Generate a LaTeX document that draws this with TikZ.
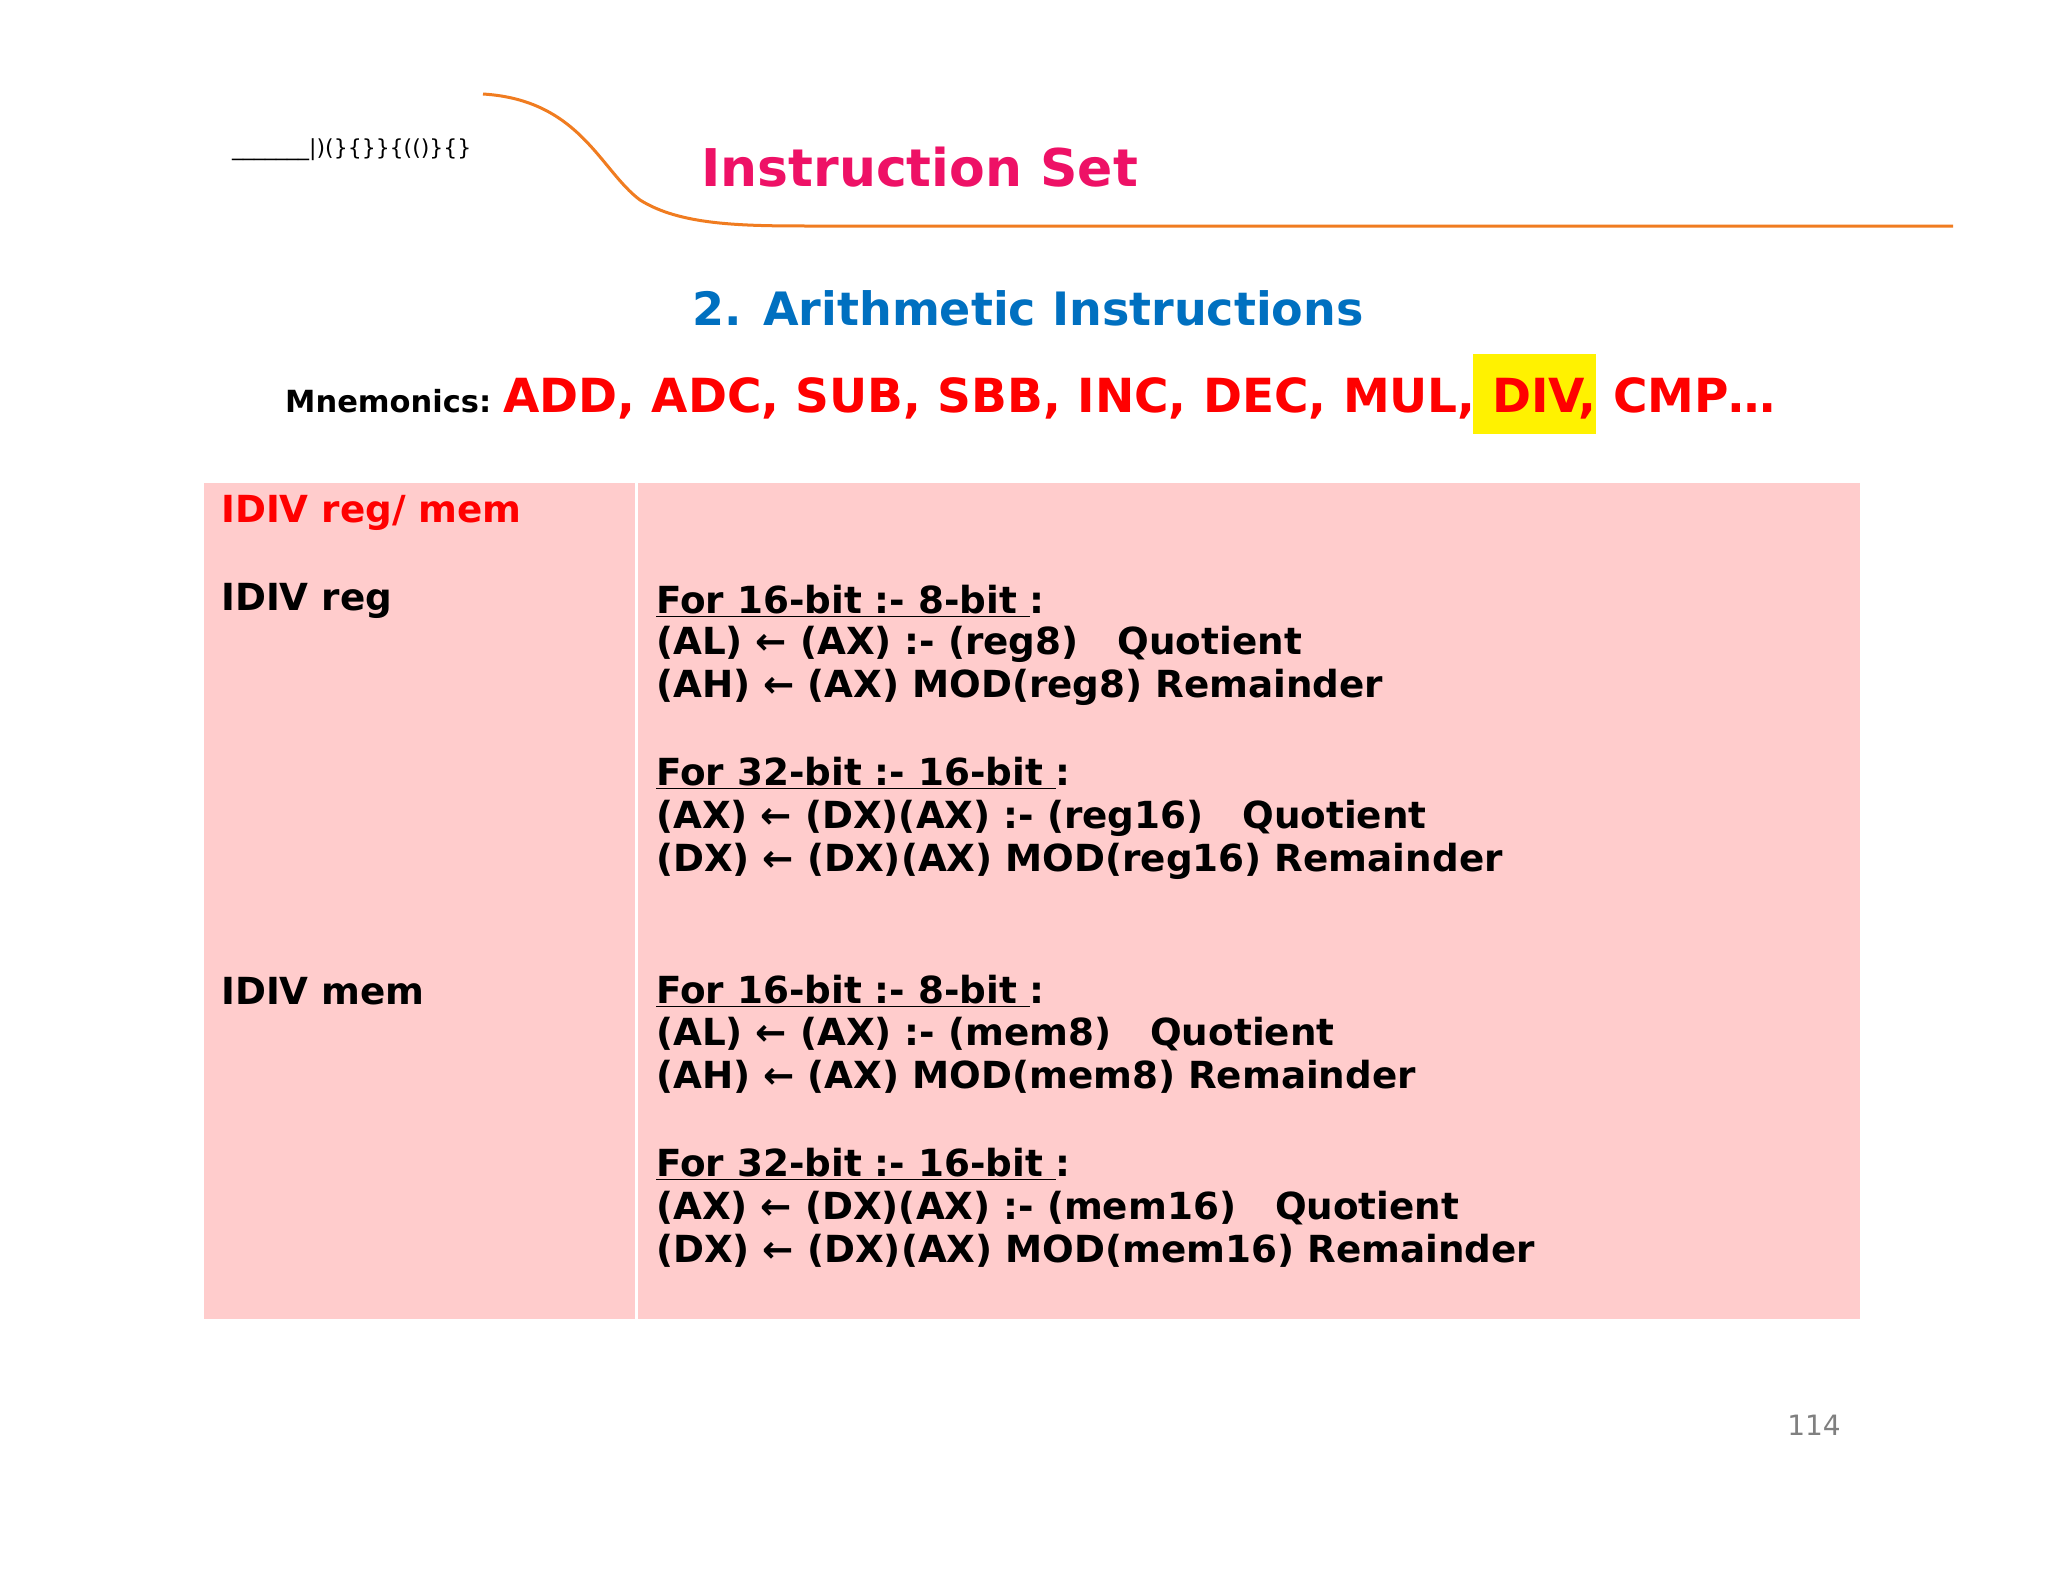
\documentclass[tikz,border=0pt]{standalone}
\usepackage{fontspec}
\setmainfont{DejaVu Sans}
\begin{document}
\begin{tikzpicture}[x=1pt,y=-1pt,
  body/.style={anchor=west,inner sep=0pt,font=\fontsize{37.3}{42}\selectfont\bfseries}]
\definecolor{pinkbg}{HTML}{FFCCCC}
\definecolor{ttl}{HTML}{EE1166}
\definecolor{blu}{HTML}{0070C0}
\definecolor{org}{HTML}{F07C20}
\useasboundingbox (0,0) rectangle (2048,1582);
\fill[white] (0,0) rectangle (2048,1582);
% header curve
\coordinate (c0) at (483,94);
\coordinate (c1) at (810,226);
\coordinate (c2) at (1953,226);
\draw[org,line width=3pt] (c0) .. controls (580,100) and (600,170) .. (640,200) .. controls (680,225) and (740,226) .. (c1) -- (c2);
\node[anchor=west,inner sep=0pt,font=\fontsize{22}{24}\selectfont] (logo) at (232,150) {\_\_\_\_\_\_\_|)(\}\{\}\}\{(()\}\{\}};
\node[anchor=west,inner sep=0pt,text=ttl,font=\fontsize{52}{56}\selectfont\bfseries] (title) at (701,167) {Instruction Set};
\node[inner sep=0pt,text=blu,font=\fontsize{46}{50}\selectfont\bfseries] (sub) at (1028,308) {2. Arithmetic Instructions};
% highlight
\fill[yellow] (1473,354) rectangle (1596,434);
\node[anchor=base west,inner sep=0pt,font=\fontsize{30.5}{33}\selectfont\bfseries] (mn) at (285,412) {Mnemonics:};
\node[anchor=base west,inner sep=0pt,text=red,font=\fontsize{47}{52}\selectfont\bfseries] (mlist) at (503,412) {ADD, ADC, SUB, SBB, INC, DEC, MUL, DIV, CMP…};
% table
\fill[pinkbg] (204,483) rectangle (1860,1319);
\draw[white,line width=3pt] (636,483) -- (636,1319);
\node[body,text=red] (l1) at (221,513) {IDIV reg/ mem};
\node[body] (l2) at (221,601) {IDIV reg};
\node[body] (l3) at (221,991) {IDIV mem};
\node[body] (r1) at (656,601) {\underline{For 16-bit :- 8-bit\ }:};
\node[body] (r2) at (656,644) {(AL) ← (AX) :- (reg8) \ \ Quotient};
\node[body] (r3) at (656,687) {(AH) ← (AX) MOD(reg8) Remainder};
\node[body] (r4) at (656,773) {\underline{For 32-bit :- 16-bit\ }:};
\node[body] (r5) at (656,818) {(AX) ← (DX)(AX) :- (reg16) \ \ Quotient};
\node[body] (r6) at (656,861) {(DX) ← (DX)(AX) MOD(reg16) Remainder};
\node[body] (r7) at (656,991) {\underline{For 16-bit :- 8-bit\ }:};
\node[body] (r8) at (656,1034) {(AL) ← (AX) :- (mem8) \ \ Quotient};
\node[body] (r9) at (656,1077) {(AH) ← (AX) MOD(mem8) Remainder};
\node[body] (r10) at (656,1164) {\underline{For 32-bit :- 16-bit\ }:};
\node[body] (r11) at (656,1208) {(AX) ← (DX)(AX) :- (mem16) \ \ Quotient};
\node[body] (r12) at (656,1251) {(DX) ← (DX)(AX) MOD(mem16) Remainder};
\node[inner sep=0pt,text=gray,font=\fontsize{28}{30}\selectfont] (pg) at (1814,1425) {114};
\end{tikzpicture}
\end{document}
